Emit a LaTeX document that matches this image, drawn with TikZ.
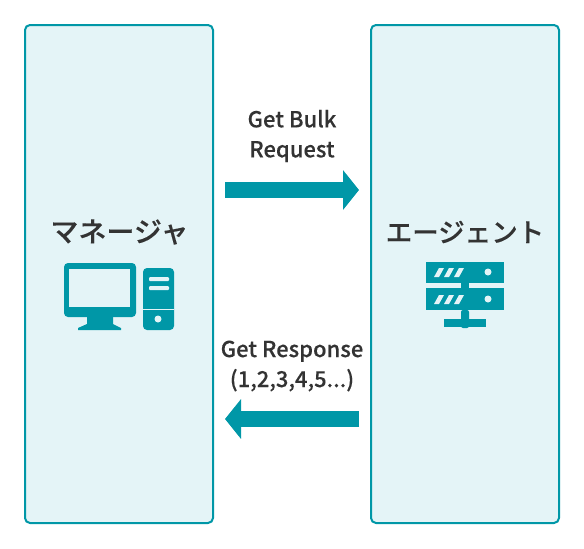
\documentclass[tikz,border=0pt]{standalone}
\usepackage{fontspec}
\setmainfont{Noto Sans CJK JP Medium}[FakeBold=0.15]
\usetikzlibrary{arrows.meta}

\definecolor{tealmain}{RGB}{0,151,167}
\definecolor{tealpale}{RGB}{228,244,247}
\definecolor{inktext}{RGB}{51,51,51}

\begin{document}
\begin{tikzpicture}[
    x=1pt, y=-1pt,
    every node/.style={text=inktext},
    panel/.style={draw=tealmain, fill=tealpale, line width=2pt, rounded corners=5pt,
        minimum width=188pt, minimum height=498pt, inner sep=0pt},
    title/.style={font=\fontsize{27}{32}\selectfont, inner sep=0pt},
    msglabel/.style={font=\fontsize{22}{30}\selectfont, align=center, inner sep=0pt},
    flow/.style={-{Triangle[length=16pt, width=39pt]}, line width=16pt, draw=tealmain},
    icon/.style={fill=tealmain},
    iconcut/.style={fill=tealpale},
]
\useasboundingbox (0,0) rectangle (584,549);

% === Panels ===
\node[panel] (manager) at (119,274) {};
\node[panel] (agent) at (465,274) {};
\node[title, font=\fontsize{28}{32}\selectfont] (managertitle) at (119.5,232) {マネージャ};
\node[title, font=\fontsize{26.5}{32}\selectfont] (agenttitle) at (465,232) {エージェント};

% === Messages ===
\node[msglabel] (request) at (292,136) {Get Bulk\\Request};
\node[msglabel] (response) at (292,366) {Get Response\\(1,2,3,4,5...)};

% === Block arrows ===
\coordinate (reqstart) at (225,190);
\coordinate (reqend) at (359,190);
\coordinate (resstart) at (359,419);
\coordinate (resend) at (225,419);
\draw[flow] (reqstart) -- (reqend);
\draw[flow] (resstart) -- (resend);

% === Monitor ===
\fill[icon, rounded corners=4pt] (64,263) rectangle (136,317);
\fill[iconcut] (69,269) rectangle (130,307);
\fill[icon] (87,317) -- (113,317) -- (113,324) -- (121,328) -- (121,330) -- (78,330) -- (78,328) -- (87,324) -- cycle;

% === Tower ===
\fill[icon, rounded corners=4pt] (143,268) rectangle (174,330);
\fill[iconcut, rounded corners=1pt] (149,277) rectangle (169,281);
\fill[iconcut, rounded corners=1pt] (149,286) rectangle (169,290);
\fill[iconcut] (143,308.5) rectangle (174,309.5);
\fill[iconcut] (158,319) circle (3.5);

% === Server rack ===
\fill[icon] (426,262) rectangle (504,283);
\fill[icon] (426,288) rectangle (504,310);
\fill[icon] (461,283) rectangle (469,288);
\fill[icon, rounded corners=2pt] (461,310) rectangle (469,328);
\fill[icon] (444,319) rectangle (486,327);
\fill[iconcut] (488,272) circle (3.5);
\fill[iconcut] (488,299) circle (3.5);
\foreach \sx in {0,10,20} {
    \fill[iconcut] (434+\sx,277) -- (439+\sx,268) -- (444+\sx,268) -- (439+\sx,277) -- cycle;
    \fill[iconcut] (434+\sx,304) -- (439+\sx,295) -- (444+\sx,295) -- (439+\sx,304) -- cycle;
}

\end{tikzpicture}
\end{document}
